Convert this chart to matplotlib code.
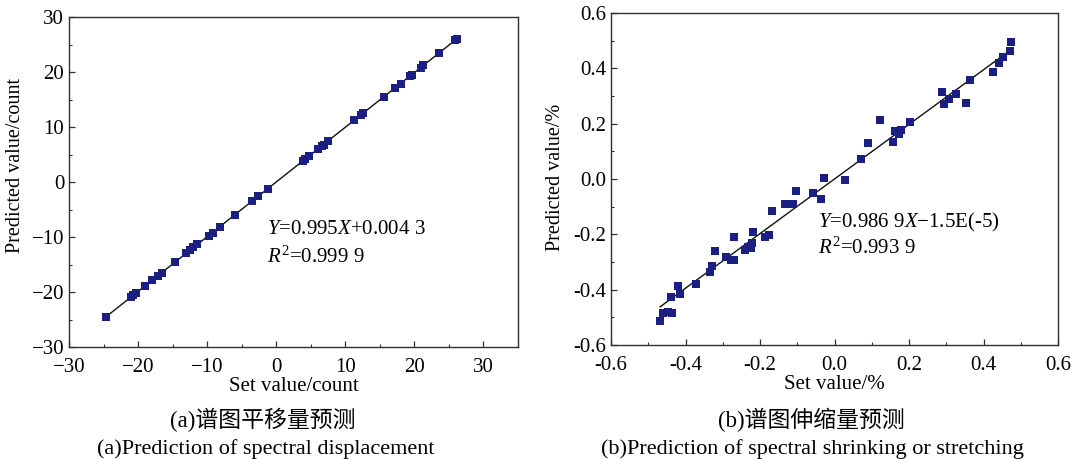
import numpy as np
import matplotlib
matplotlib.use("Agg")
import matplotlib.pyplot as plt
from matplotlib.ticker import MultipleLocator, FormatStrFormatter

plt.rcParams['font.family'] = ['Liberation Serif', 'Noto Sans CJK SC']
plt.rcParams['mathtext.fontset'] = 'custom'
plt.rcParams['mathtext.rm'] = 'Liberation Serif'
plt.rcParams['mathtext.it'] = 'Liberation Serif:italic'

# (a) spectral displacement, set vs predicted (count)
set_a = [-24.7, -21.0, -20.7, -20.3, -19.0, -18.0, -17.1, -16.6, -14.6, -13.0,
         -12.5, -12.0, -11.4, -9.8, -9.2, -8.2, -6.0, -3.5, -2.6, -1.2,
         3.9, 4.2, 4.8, 6.0, 6.6, 6.9, 7.5, 11.3, 12.2, 12.6,
         15.6, 17.2, 18.0, 19.3, 19.6, 20.9, 21.3, 23.6, 25.9, 26.1]
pred_a = [-24.6, -20.9, -20.6, -20.2, -18.9, -17.9, -17.0, -16.5, -14.5, -12.9,
          -12.4, -11.9, -11.3, -9.8, -9.2, -8.2, -6.0, -3.5, -2.6, -1.2,
          3.9, 4.2, 4.8, 6.0, 6.6, 6.8, 7.5, 11.2, 12.1, 12.5,
          15.5, 17.1, 17.9, 19.2, 19.5, 20.8, 21.2, 23.5, 25.8, 26.0]
fit_a = (0.995, 0.0043)

# (b) spectral shrinking / stretching, set vs predicted (%)
set_b = [-0.468, -0.460, -0.447, -0.436, -0.440, -0.420, -0.414, -0.372, -0.333, -0.328,
         -0.322, -0.290, -0.277, -0.270, -0.270, -0.239, -0.232, -0.225, -0.222, -0.218,
         -0.187, -0.176, -0.168, -0.132, -0.111, -0.104, -0.059, -0.035, -0.028, 0.028,
         0.070, 0.091, 0.122, 0.156, 0.162, 0.173, 0.179, 0.202, 0.288, 0.294,
         0.307, 0.326, 0.353, 0.364, 0.426, 0.441, 0.453, 0.472, 0.475]
pred_b = [-0.514, -0.486, -0.480, -0.486, -0.428, -0.387, -0.414, -0.381, -0.335, -0.314,
          -0.259, -0.283, -0.291, -0.291, -0.211, -0.257, -0.247, -0.251, -0.233, -0.191,
          -0.211, -0.204, -0.116, -0.089, -0.089, -0.042, -0.049, -0.072, 0.002, -0.004,
          0.074, 0.131, 0.214, 0.135, 0.174, 0.163, 0.177, 0.207, 0.314, 0.270,
          0.288, 0.308, 0.274, 0.359, 0.388, 0.421, 0.440, 0.464, 0.495]
fit_b = (0.9869, -1.5e-5)

W, H = 1077, 459
fig = plt.figure(figsize=(W / 100, H / 100), dpi=100)

ax1 = fig.add_axes([69 / W, 1 - 347 / H, 449 / W, 330 / H])
ax2 = fig.add_axes([611 / W, 1 - 345 / H, 447 / W, 332 / H])

mcol = '#1b1f82'


def style(ax, major, minor):
    for s in ax.spines.values():
        s.set_color('#303030')
        s.set_linewidth(1.0)
    ax.xaxis.set_major_locator(MultipleLocator(major))
    ax.xaxis.set_minor_locator(MultipleLocator(minor))
    ax.yaxis.set_major_locator(MultipleLocator(major))
    ax.yaxis.set_minor_locator(MultipleLocator(minor))
    ax.tick_params(which='both', direction='in', top=False, right=False,
                   labelsize=15, color='#303030')
    ax.tick_params(axis='x', which='both', pad=8)
    ax.tick_params(axis='y', which='both', pad=3.5)
    ax.tick_params(which='major', length=4, width=0.9)
    ax.tick_params(which='minor', length=2.5, width=0.8)


# panel a
xa = np.array(set_a)
line_x = np.array([xa.min(), xa.max()])
ax1.plot(line_x, fit_a[0] * line_x + fit_a[1], color='#111111', lw=1.0, zorder=2)
ax1.plot(set_a, pred_a, 's', color=mcol, ms=5.4, mew=0, zorder=3)
ax1.set_xlim(-30, 35)
ax1.set_ylim(-30, 30)
style(ax1, 10, 5)
ax1.set_xlabel('Set value/count', fontsize=15, labelpad=0)
ax1.set_ylabel('Predicted value/count', fontsize=14.5)
ax1.yaxis.set_label_coords(-0.097, 0.55)
ax1.text(-1.35, -8.7, r'$Y$=0.995$X$+0.004 3', fontsize=15, va='center', ha='left')
ax1.text(-1.35, -13.6, r'$R^2$=0.999 9', fontsize=15, va='center', ha='left')

# panel b
xb = np.array(set_b)
line_x = np.array([xb.min(), xb.max()])
ax2.plot(line_x, fit_b[0] * line_x + fit_b[1], color='#111111', lw=1.0, zorder=2)
ax2.plot(set_b, pred_b, 's', color=mcol, ms=5.6, mew=0, zorder=3)
ax2.set_xlim(-0.6, 0.6)
ax2.set_ylim(-0.6, 0.6)
style(ax2, 0.2, 0.1)
ax2.xaxis.set_major_formatter(FormatStrFormatter('%.1f'))
ax2.yaxis.set_major_formatter(FormatStrFormatter('%.1f'))
ax2.set_xlabel('Set value/%', fontsize=15, labelpad=0)
ax2.set_ylabel('Predicted value/%', fontsize=14.5)
ax2.yaxis.set_label_coords(-0.103, 0.506)
ax2.text(-0.044, -0.158, '$Y$=0.986 9$X$\u22121.5E(-5)', fontsize=15, va='center', ha='left')
ax2.text(-0.044, -0.251, r'$R^2$=0.993 9', fontsize=15, va='center', ha='left')

# captions
fig.text(263 / W, 1 - 420 / H, '(a)谱图平移量预测', fontsize=16.5, ha='center', va='center')
fig.text(266 / W, 1 - 449 / H, '(a)Prediction of spectral displacement', fontsize=16,
         ha='center', va='center')
fig.text(811 / W, 1 - 420 / H, '(b)谱图伸缩量预测', fontsize=16.5, ha='center', va='center')
fig.text(812 / W, 1 - 449 / H, '(b)Prediction of spectral shrinking or stretching', fontsize=16,
         ha='center', va='center')

fig.savefig('out.png', dpi=100)
